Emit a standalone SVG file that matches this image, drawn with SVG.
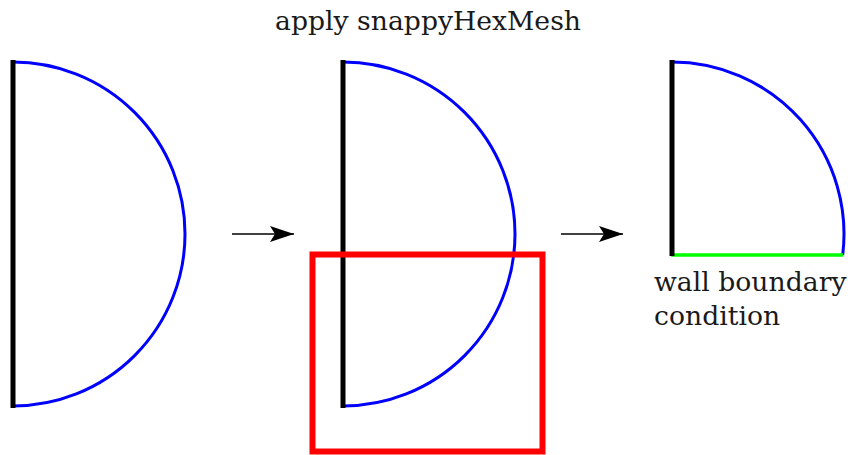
<svg xmlns="http://www.w3.org/2000/svg" width="850" height="455" viewBox="0 0 850 455">
<style>
.wall{stroke:#000;stroke-width:5;fill:none}
.arc{stroke:#0000ff;stroke-width:3;fill:none}
.lbl{font-family:"DejaVu Serif",serif;font-size:26.67px;fill:#1a1a1a}
.conn{stroke:#000;stroke-width:1.3;fill:none}
</style>
<defs>
<marker id="ah" markerWidth="26" markerHeight="18" refX="24" refY="8" orient="auto" markerUnits="userSpaceOnUse" viewBox="0 0 26 18">
<path d="M24,8 L0,0 L5,8 L0,16 Z" fill="#000"/>
</marker>
</defs>
<text class="lbl" x="428" y="30" text-anchor="middle">apply snappyHexMesh</text>
<g id="shape1">
<path class="arc" d="M13,62 A172,172 0 0 1 13,406"/>
<line class="wall" x1="13" y1="60" x2="13" y2="408"/>
</g>
<g id="shape2">
<path class="arc" d="M343,62 A172,172 0 0 1 343,406"/>
<line class="wall" x1="343" y1="60" x2="343" y2="408"/>
<rect x="312.5" y="254.5" width="230" height="197" fill="none" stroke="#ff0000" stroke-width="6"/>
</g>
<g id="shape3">
<path class="arc" d="M672,62 A172,172 0 0 1 842.7,255"/>
<line x1="671" y1="255" x2="843" y2="255" stroke="#00ff00" stroke-width="3.5"/>
<line class="wall" x1="672" y1="60" x2="672" y2="256"/>
<text class="lbl" x="654" y="291">wall boundary</text>
<text class="lbl" x="654" y="325">condition</text>
</g>
<g id="connectors">
<line class="conn" x1="232" y1="234" x2="294" y2="234" marker-end="url(#ah)"/>
<line class="conn" x1="561" y1="234" x2="623" y2="234" marker-end="url(#ah)"/>
</g>
</svg>
